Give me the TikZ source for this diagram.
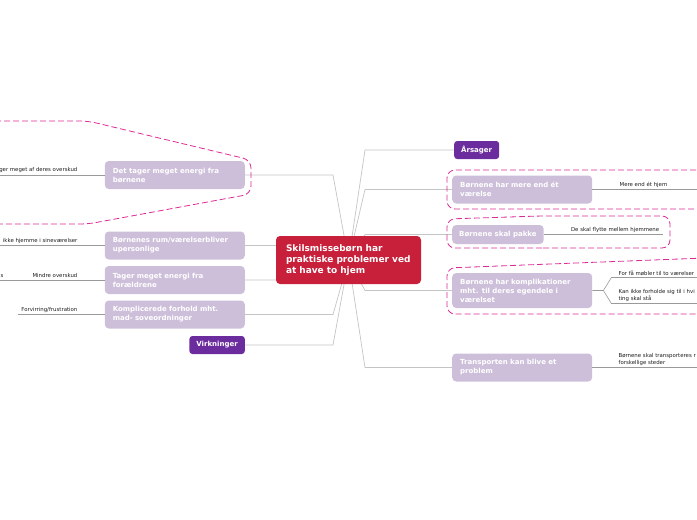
\documentclass[tikz,border=0pt]{standalone}
\usepackage{fontspec}
\setmainfont{DejaVu Sans}
\usetikzlibrary{positioning,calc,backgrounds}
\definecolor{rootc}{HTML}{C8203A}
\definecolor{purpc}{HTML}{6B2D9E}
\definecolor{lilacc}{HTML}{CDBFDA}
\definecolor{boundc}{HTML}{DC2A96}
\definecolor{wirec}{HTML}{C4C4C4}
\definecolor{twigc}{HTML}{9A9A9A}
\definecolor{inkc}{HTML}{1E1E1E}
\tikzset{
  root/.style ={fill=rootc,text=white,rounded corners=4pt,inner xsep=10pt,inner ysep=0pt,
                minimum height=48pt,text width=125pt,align=left,
                font=\fontsize{9}{11}\selectfont\bfseries},
  sub/.style  ={fill=lilacc,text=white,rounded corners=4pt,inner xsep=8pt,inner ysep=0pt,
                align=left,font=\fontsize{7}{9}\selectfont\bfseries},
  sub2/.style ={sub,minimum height=28pt,text width=124pt},
  sub1/.style ={sub,minimum height=19pt,inner xsep=7pt},
  tag/.style  ={fill=purpc,text=white,rounded corners=3pt,inner xsep=7pt,inner ysep=0pt,
                minimum height=18pt,font=\fontsize{7}{8}\selectfont\bfseries},
  leaf/.style ={font=\fontsize{5.4}{6.6}\selectfont,text=inkc,inner sep=0pt,align=left},
  wire/.style ={draw=wirec,line width=.7pt},
  twig/.style ={draw=twigc,line width=.6pt},
  bound/.style={draw=boundc,line width=.8pt,dash pattern=on 6pt off 3pt,rounded corners=8pt},
}

\begin{document}
\begin{tikzpicture}[x=1pt,y=-1pt]
\useasboundingbox (0,0) rectangle (697,520);
\coordinate (kR) at (365,0); \coordinate (kL) at (333,0);
\coordinate (eR) at (705,0); \coordinate (eL) at (-5,0);

% ============================ centre ====================================
\node[root] (root) at (348.5,260) {Skilsmissebørn har\\praktiske problemer ved\\at have to hjem};

% ============================ right: Årsager ============================
\node[tag,anchor=west]  (aars) at (454,150) {Årsager};
\node[sub2,anchor=west] (r1) at (452,189.5) {Børnene har mere end ét\\værelse};
\node[sub1,anchor=west] (r2) at (452,234.5) {Børnene skal pakke};
\node[sub2,anchor=west,minimum height=35pt] (r3) at (452,290.5)
  {Børnene har komplikationer\\mht. til deres egendele i\\værelset};
\node[sub2,anchor=west] (r4) at (452,367.5) {Transporten kan blive et\\problem};

\node[leaf,anchor=south west] (d1) at ([xshift=27pt,yshift=2pt]r1.east) {Mere end ét hjem};
\node[leaf,anchor=south west] (d2) at ([xshift=27pt,yshift=2pt]r2.east) {De skal flytte mellem hjemmene};
\coordinate (fk) at ([xshift=11pt]r3.east);
\coordinate (fa) at ([xshift=8pt,yshift=13pt]fk);
\coordinate (fb) at ([xshift=8pt,yshift=-13pt]fk);
\node[leaf,anchor=south west] (d3a) at ([xshift=7pt,yshift=2pt]fa) {For få møbler til to værelser};
\node[leaf,anchor=south west] (d3b) at ([xshift=7pt,yshift=2pt]fb) {Kan ikke forholde sig til i hvi\\ting skal stå};
\node[leaf,anchor=south west] (d4) at ([xshift=26pt,yshift=2pt]r4.east) {Børnene skal transporteres r\\forskellige steder};

\draw[twig](r1.east)--(r1.east-|eR);
\draw[twig](r2.east)--([xshift=4pt]d2.east|-r2.east);
\draw[twig](r3.east)--(fk)--(fa)--(fa-|eR);
\draw[twig](fk)--(fb)--(fb-|eR);
\draw[twig](r4.east)--(r4.east-|eR);

% ============================ left: Virkninger ==========================
\node[sub2,anchor=east] (l1) at (245,175) {Det tager meget energi fra\\børnene};
\node[sub2,anchor=east] (l2) at (245,245.5) {Børnenes rum/værelserbliver\\upersonlige};
\node[sub2,anchor=east] (l3) at (245,280) {Tager meget energi fra\\forældrene};
\node[sub2,anchor=east] (l4) at (245,314.5) {Komplicerede forhold mht.\\mad- soveordninger};
\node[tag,anchor=east]  (virk) at (245,345) {Virkninger};

\node[leaf,anchor=south east] (e1) at ([xshift=-27pt,yshift=2pt]l1.west) {ger meget af deres overskud};
\node[leaf,anchor=south east] (e2) at ([xshift=-27pt,yshift=2pt]l2.west) {ikke hjemme i sineværelser};
\node[leaf,anchor=south east] (e3) at ([xshift=-27pt,yshift=2pt]l3.west) {Mindre overskud};
\node[leaf,anchor=south east] (e3b) at ([xshift=-101pt,yshift=2pt]l3.west) {s};
\node[leaf,anchor=south east] (e4) at ([xshift=-27pt,yshift=2pt]l4.west) {Forvirring/frustration};

\draw[twig](l1.west)--(l1.west-|eL);
\draw[twig](l2.west)--(l2.west-|eL);
\draw[twig](l3.west)--(l3.west-|eL);
\draw[twig](l4.west)--([xshift=-3pt]e4.west|-l4.west);

% ============================ connectors ================================
\begin{scope}[on background layer]
  \draw[wire](root.center)--(kR|-aars.west)--(aars.west);
  \draw[wire](root.center)--(kR|-r1.west)--(r1.west);
  \draw[wire](root.center)--(kR|-r2.west)--(r2.west);
  \draw[wire](root.center)--(kR|-r3.west)--(r3.west);
  \draw[wire](root.center)--(kR|-r4.west)--(r4.west);
  \draw[wire](root.center)--(kL|-l1.east)--(l1.east);
  \draw[wire](root.center)--(kL|-l2.east)--(l2.east);
  \draw[wire](root.center)--(kL|-l3.east)--(l3.east);
  \draw[wire](root.center)--(kL|-l4.east)--(l4.east);
  \draw[wire](root.center)--(kL|-virk.east)--(virk.east);
\end{scope}

% ============================ boundaries ================================
\draw[bound](-5,121)--(88,121)--(251,160)--(251,194)--(88,224)--(-5,224);
\draw[bound](705,170)--(447,170)--(447,209)--(705,209);
\draw[bound](550,248)--(447,248)--(447,219)--(540,216)--(670,216)--(670,248)--cycle;
\draw[bound](705,258)--(447,268)--(447,314)--(705,314);
\end{tikzpicture}
\end{document}
